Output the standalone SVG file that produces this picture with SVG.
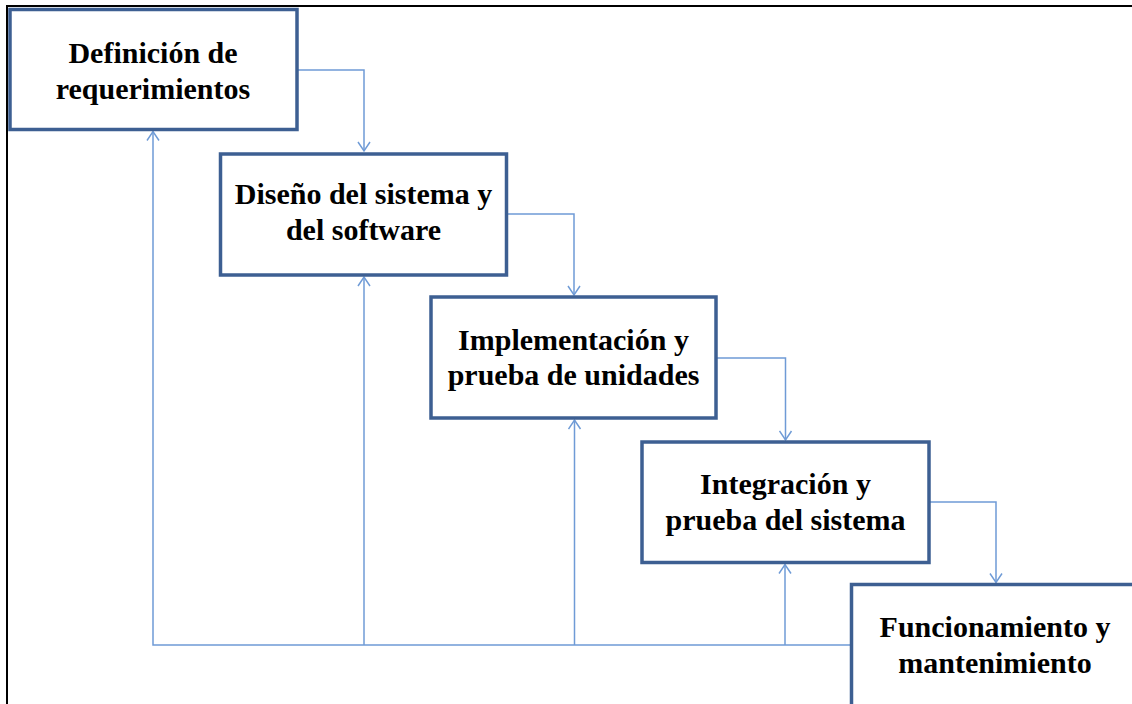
<svg xmlns="http://www.w3.org/2000/svg" width="1132" height="704" viewBox="0 0 1132 704">
<style>
.box{fill:#ffffff;stroke:#3D5F92;stroke-width:3.5}
.lbl{font-family:"Liberation Serif","Times New Roman",serif;font-weight:bold;font-size:30px;fill:#000;text-anchor:middle}
.con{fill:none;stroke:#6F9BD6;stroke-width:1.5}
</style>
<defs>
<marker id="ah" markerUnits="userSpaceOnUse" markerWidth="14" markerHeight="14" viewBox="-11 -7 12 14" refX="0" refY="0" orient="auto">
<path d="M-9,-6 L0,0 L-9,6" fill="none" stroke="#6F9BD6" stroke-width="1.5"/>
</marker>
</defs>
<rect width="1132" height="704" fill="#ffffff"/>
<g id="frame" fill="none" stroke="#000" stroke-width="2">
<path d="M7,704 V6 H1132"/>
</g>
<g id="connectors">
<path class="con" d="M297,70 H364 V151" marker-end="url(#ah)"/>
<path class="con" d="M506.5,214 H574 V295" marker-end="url(#ah)"/>
<path class="con" d="M716,358 H785.5 V440" marker-end="url(#ah)"/>
<path class="con" d="M929,502 H996 V582.5" marker-end="url(#ah)"/>
<path class="con" d="M851,645 H153 V131.5" marker-end="url(#ah)"/>
<path class="con" d="M364,645 V277" marker-end="url(#ah)"/>
<path class="con" d="M574.5,645 V420" marker-end="url(#ah)"/>
<path class="con" d="M785,645 V564.5" marker-end="url(#ah)"/>
</g>
<g id="n1">
<rect class="box" x="10" y="9.5" width="287" height="120"/>
<text class="lbl" x="153" y="62.5">Definición de</text>
<text class="lbl" x="153" y="98.5">requerimientos</text>
</g>
<g id="n2">
<rect class="box" x="220.5" y="154" width="286" height="121"/>
<text class="lbl" x="363.5" y="203.5">Diseño del sistema y</text>
<text class="lbl" x="363.5" y="240">del software</text>
</g>
<g id="n3">
<rect class="box" x="431" y="297" width="285" height="121"/>
<text class="lbl" x="573.5" y="350">Implementación y</text>
<text class="lbl" x="573.5" y="384.5">prueba de unidades</text>
</g>
<g id="n4">
<rect class="box" x="642" y="442" width="287" height="120.5"/>
<text class="lbl" x="785.5" y="493.5">Integración y</text>
<text class="lbl" x="785.5" y="529.5">prueba del sistema</text>
</g>
<g id="n5">
<rect class="box" x="851.5" y="584.5" width="290" height="130"/>
<text class="lbl" x="995" y="637">Funcionamiento y</text>
<text class="lbl" x="995" y="673">mantenimiento</text>
</g>
</svg>
